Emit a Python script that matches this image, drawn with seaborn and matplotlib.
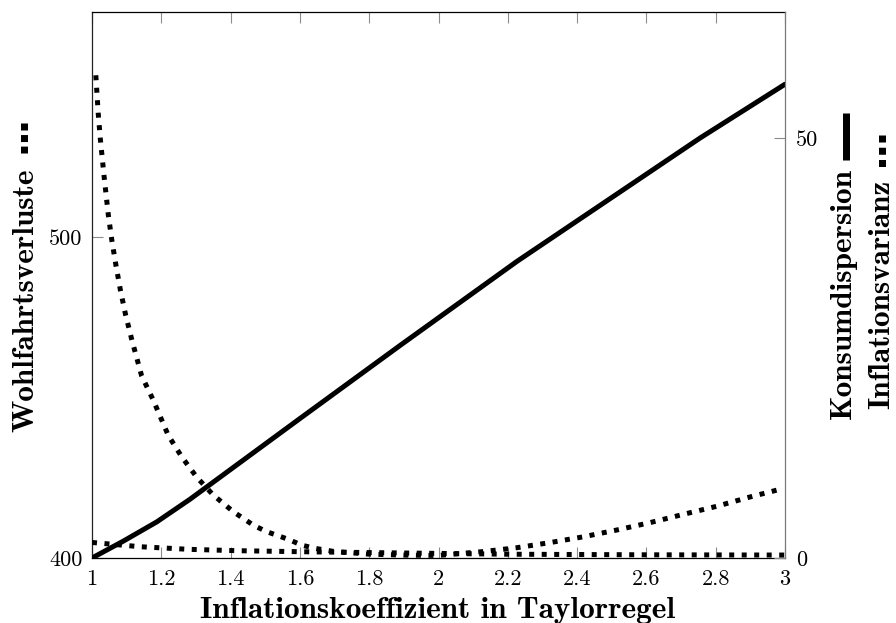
import numpy as np
import pandas as pd
import matplotlib
matplotlib.use("Agg")
import matplotlib.pyplot as plt
from matplotlib.lines import Line2D
import seaborn as sns

# ---------------- data ----------------
x_welfare = [1.011, 1.018, 1.024, 1.035, 1.047, 1.057, 1.069, 1.082, 1.097,
             1.115, 1.143, 1.177, 1.22, 1.259, 1.302, 1.35, 1.408, 1.466,
             1.504, 1.567, 1.605, 1.644, 1.7, 1.8, 1.9, 2.0, 2.129, 2.226,
             2.322, 2.418, 2.514, 2.61, 2.707, 2.803, 2.899, 2.986]
welfare_loss = [550.3, 538.4, 530.5, 518.7, 506.9, 499.1, 491.2, 483.4, 475.7,
                467.9, 456.8, 449.1, 438.2, 431.5, 425.2, 419.6, 414.4, 410.2,
                408.2, 405.8, 404.0, 403.0, 402.0, 401.2, 400.9, 400.8, 402.0,
                403.2, 404.8, 406.6, 408.7, 411.0, 413.6, 416.1, 419.0, 421.4]

x_cons = [1.0, 1.09, 1.187, 1.283, 1.6, 1.889, 2.226, 2.755, 3.0]
cons_disp = [0.0, 2.0, 4.3, 7.0, 16.6, 25.3, 35.3, 50.0, 56.4]

x_infl = [1.0, 1.14, 1.28, 1.42, 1.6, 1.89, 2.2, 2.6, 3.0]
infl_var = [1.85, 1.34, 1.03, 0.87, 0.75, 0.6, 0.45, 0.38, 0.35]

x_ticks = [1.0, 1.2, 1.4, 1.6, 1.8, 2.0, 2.2, 2.4, 2.6, 2.8, 3.0]
x_tick_labels = ["1", "1.2", "1.4", "1.6", "1.8", "2", "2.2", "2.4", "2.6", "2.8", "3"]
left_ticks = [400, 500]
right_ticks = [0, 50]

xlabel = "Inflationskoeffizient in Taylorregel"
ylabel_left = "Wohlfahrtsverluste"
ylabel_right1 = "Konsumdispersion"
ylabel_right2 = "Inflationsvarianz"

# ---------------- style ----------------
sns.set_theme(style="white")
plt.rcParams["font.family"] = ["cmr10", "DejaVu Serif"]
plt.rcParams["axes.unicode_minus"] = False

W, H = 896, 623
fig = plt.figure(figsize=(W / 100, H / 100), dpi=100)
ax = fig.add_axes([92 / W, 1 - 558 / H, (785 - 92) / W, (558 - 12) / H])
ax2 = ax.twinx()

LW = 3.6
DOT = (0, (1, 1.5))

df_w = pd.DataFrame({"x": x_welfare, "y": welfare_loss})
df_c = pd.DataFrame({"x": x_cons, "y": cons_disp})
df_i = pd.DataFrame({"x": x_infl, "y": infl_var})

sns.lineplot(data=df_w, x="x", y="y", ax=ax, color="black", linewidth=LW,
             linestyle=DOT, estimator=None)
sns.lineplot(data=df_i, x="x", y="y", ax=ax2, color="black", linewidth=LW,
             linestyle=DOT, estimator=None)
sns.lineplot(data=df_c, x="x", y="y", ax=ax2, color="black", linewidth=LW,
             linestyle="-", estimator=None)

ax.set_xlim(1, 3)
ax.set_ylim(400, 570)
ax2.set_ylim(0, 65)

ax.set_xticks(x_ticks)
ax.set_xticklabels(x_tick_labels)
ax.set_yticks(left_ticks)
ax.set_yticklabels([str(v) for v in left_ticks])
ax2.set_yticks(right_ticks)
ax2.set_yticklabels([str(v) for v in right_ticks])
ax.set_xlabel("")
ax.set_ylabel("")
ax2.set_ylabel("")

tick_col = "#8c8c8c"
ax.tick_params(axis="x", direction="in", length=8, width=0.8, color=tick_col,
               labelsize=16, pad=8, top=True, bottom=True, labelcolor="black")
ax.tick_params(axis="y", direction="in", length=8, width=0.8, color=tick_col,
               labelsize=16, pad=7, left=True, right=False, labelcolor="black")
ax2.tick_params(axis="y", direction="in", length=8, width=0.8, color=tick_col,
                labelsize=16, pad=8, right=True, left=False, labelcolor="black")

for s in ["left", "bottom", "top"]:
    ax2.spines[s].set_visible(False)
ax2.spines["right"].set_color("#7a7a7a")
ax2.spines["right"].set_linewidth(0.9)
ax.spines["right"].set_visible(False)
ax.spines["left"].set_color("#222222")
ax.spines["bottom"].set_color("black")
ax.spines["top"].set_color("black")
for s in ["left", "bottom", "top"]:
    ax.spines[s].set_linewidth(0.9)

# ---------------- labels ----------------
bold = ["cmb10", "DejaVu Serif"]
LFS = 22.5

fig.text(438 / W, 1 - 618 / H, xlabel, family=bold, fontsize=LFS,
         ha="center", va="baseline", color="black")

def vlabel(text, base_x, top_y):
    fig.text(base_x / W, 1 - top_y / H, text, family=bold, fontsize=LFS,
             rotation=90, rotation_mode="anchor", ha="right", va="baseline",
             color="black")

vlabel(ylabel_left, 33, 168)
vlabel(ylabel_right1, 851, 168)
vlabel(ylabel_right2, 889, 180)

def marker(x, y1, y2, lw_px, style):
    lw_pt = lw_px * 0.72
    fig.add_artist(Line2D([x / W, x / W], [1 - y1 / H, 1 - y2 / H],
                          transform=fig.transFigure, color="black",
                          linewidth=lw_pt, linestyle=style,
                          solid_capstyle="butt", dash_capstyle="butt"))

marker(23.5, 123, 153, 7, (0, (1, 0.65)))
marker(846, 113, 160, 7, "-")
marker(882, 135, 170, 7, (0, (1, 0.75)))

fig.savefig("out.png", dpi=100)
